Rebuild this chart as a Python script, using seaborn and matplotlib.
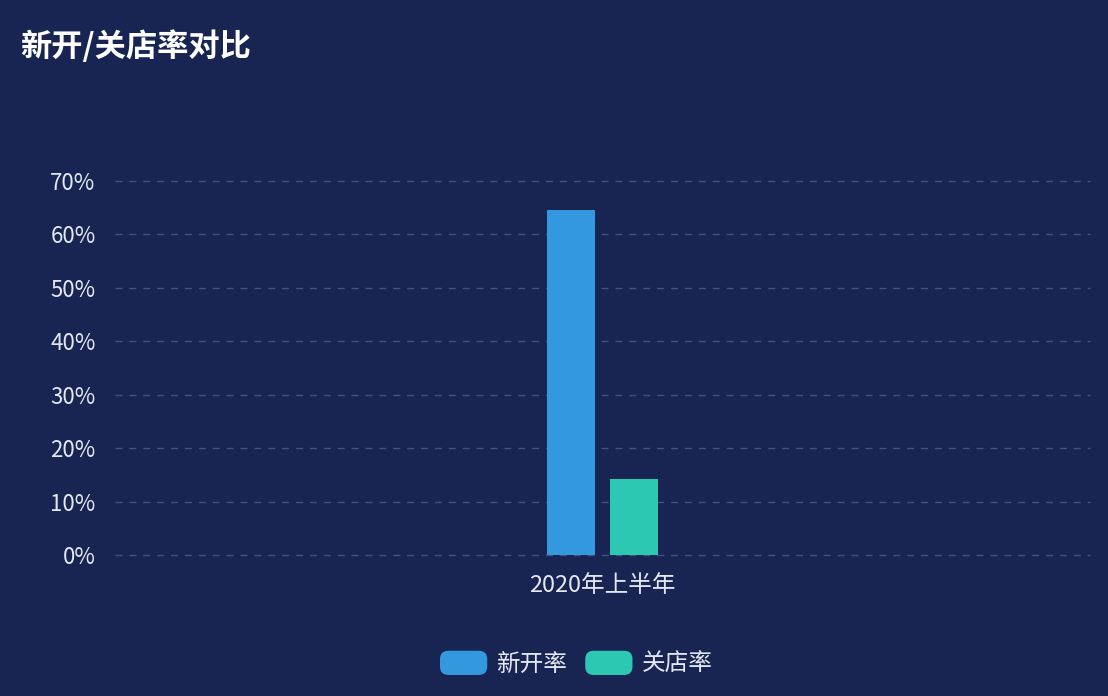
import matplotlib
matplotlib.use("Agg")
import matplotlib.pyplot as plt
from matplotlib.patches import FancyBboxPatch, Patch
from matplotlib.legend_handler import HandlerPatch
import seaborn as sns
import pandas as pd

# data
periods = ["2020年上半年"]
series = ["新开率", "关店率"]
open_rate = [64.5]
close_rate = [14.3]
yticks = [0, 10, 20, 30, 40, 50, 60, 70]

bg = "#182552"
text_col = "#e3e8f2"
colors = ["#3398dd", "#2dc8b2"]

sns.set_theme(style="dark")
plt.rcParams['font.family'] = ['Noto Sans CJK SC', 'DejaVu Sans']

df = pd.DataFrame({
    "period": periods * 2,
    "series": [series[0]] * len(periods) + [series[1]] * len(periods),
    "value": open_rate + close_rate,
})

fig = plt.figure(figsize=(11.08, 6.96), dpi=100, facecolor=bg)
ax = fig.add_axes([0.1038, 0.2026, 0.88, 0.5374])
ax.set_facecolor(bg)

sns.barplot(data=df, x="period", y="value", hue="series", palette=colors,
            width=0.129, gap=0.238, saturation=1, linewidth=0,
            ax=ax, legend=False)

ax.set_xlim(-0.5, 0.5)
ax.set_ylim(0, 70)
ax.set_yticks(yticks)
ax.set_yticklabels([f"{v}%" for v in yticks])
ax.set_xlabel("")
ax.set_ylabel("")
ax.tick_params(axis="y", colors=text_col, labelsize=16, length=0, pad=14)
ax.tick_params(axis="x", colors=text_col, labelsize=17, length=0, pad=14)

for v in yticks:
    ax.axhline(v, color="#42527f", lw=1, ls=(0, (5, 5)), zorder=0, clip_on=False)
for s in ax.spines.values():
    s.set_visible(False)
ax.grid(False)

fig.text(0.018, 0.933, "新开/关店率对比", color="white", fontsize=22.5,
         fontweight="bold", va="center", ha="left")


class RoundHandler(HandlerPatch):
    def create_artists(self, legend, orig_handle, xdescent, ydescent,
                       width, height, fontsize, trans):
        p = FancyBboxPatch((-xdescent, -ydescent), width, height,
                           boxstyle="round,pad=0,rounding_size=6",
                           facecolor=orig_handle.get_facecolor(),
                           edgecolor="none", transform=trans)
        return [p]


handles = [Patch(facecolor=c, label=s) for c, s in zip(colors, series)]
fig.legend(handles=handles, loc="center", bbox_to_anchor=(0.52, 0.047),
           ncol=2, frameon=False, fontsize=17, labelcolor=text_col,
           handlelength=2.0, handleheight=1.2, handletextpad=0.38,
           columnspacing=0.77, handler_map={Patch: RoundHandler()})

fig.savefig("out.png", dpi=100, facecolor=bg)
